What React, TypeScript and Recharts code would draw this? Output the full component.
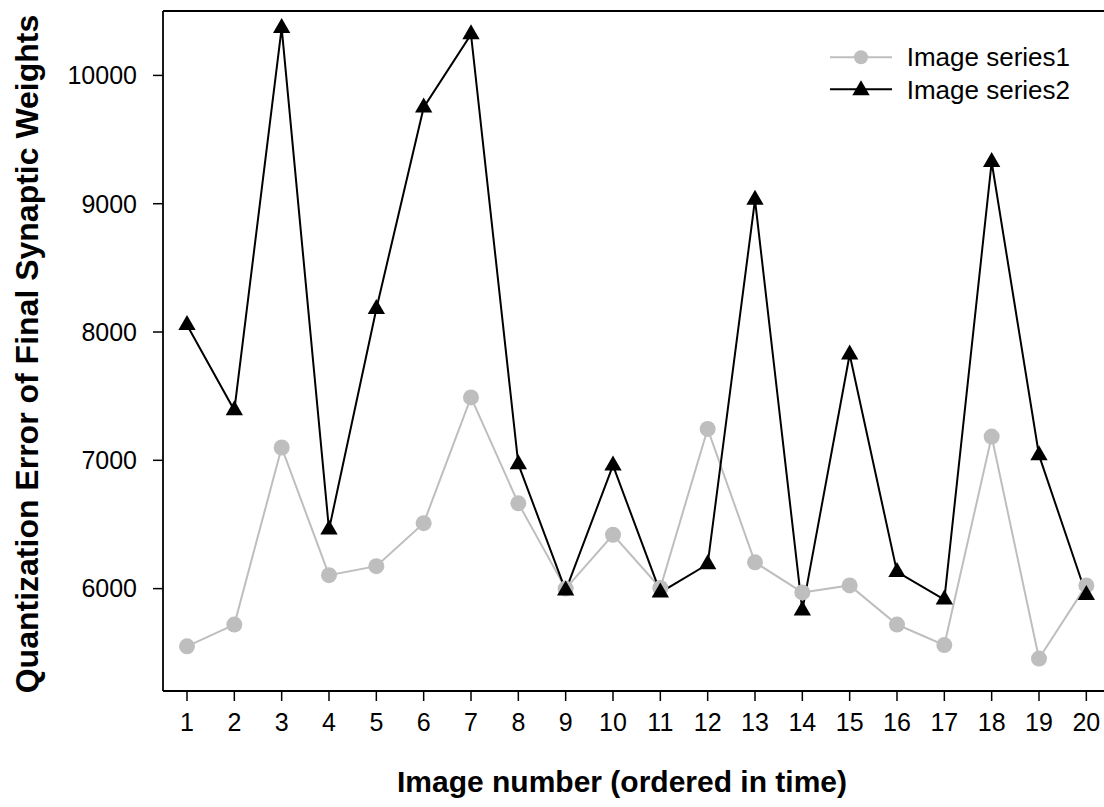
import { LineChart, Line, XAxis, YAxis, ReferenceLine } from 'recharts';

const imageNumbers = [1, 2, 3, 4, 5, 6, 7, 8, 9, 10, 11, 12, 13, 14, 15, 16, 17, 18, 19, 20];
const series1 = [5550, 5720, 7100, 6105, 6175, 6510, 7490, 6665, 6000, 6420, 6005, 7245, 6205, 5970, 6025, 5720, 5560, 7185, 5455, 6025];
const series2 = [8055, 7390, 10370, 6460, 8180, 9750, 10320, 6970, 5985, 6960, 5970, 6190, 9030, 5830, 7825, 6130, 5915, 9325, 7040, 5950];
const yTicks = [6000, 7000, 8000, 9000, 10000];

const data = imageNumbers.map((n, i) => ({ image: n, s1: series1[i], s2: series2[i] }));

const Y_MIN = 5202;
const Y_MAX = 10502;
const GREY = '#bebebe';
const FONT = '"Liberation Sans", Arial, sans-serif';

const GreyDot = (props: any) => {
  const { cx, cy, index } = props;
  if (cx == null || cy == null) return <g key={index} />;
  return <circle key={index} cx={cx} cy={cy} r={8} fill={GREY} />;
};

const TriangleDot = (props: any) => {
  const { cx, cy, index } = props;
  if (cx == null || cy == null) return <g key={index} />;
  return (
    <polygon
      key={index}
      points={`${cx},${cy - 10} ${cx + 8.66},${cy + 5} ${cx - 8.66},${cy + 5}`}
      fill="#000"
    />
  );
};

const tickStyle = { fontSize: 25, fill: '#000', fontFamily: FONT };

export default function App() {
  return (
    <div style={{ position: 'relative', width: 1104, height: 807, background: '#fff' }}>
      <style>{'body{margin:0}'}</style>
      <LineChart width={1104} height={807} data={data} margin={{ top: 11, right: -6, bottom: 0, left: 0 }}>
        <XAxis
          dataKey="image"
          type="number"
          domain={[0.493, 20.5]}
          ticks={imageNumbers}
          interval={0}
          allowDataOverflow
          height={116}
          tickSize={10}
          tickMargin={12}
          tick={tickStyle}
          axisLine={{ stroke: '#000', strokeWidth: 1.8 }}
          tickLine={{ stroke: '#000', strokeWidth: 1.5 }}
          label={{
            content: () => (
              <text
                x={622}
                y={792}
                textAnchor="middle"
                fontSize={30}
                fontWeight="bold"
                fontFamily={FONT}
                fill="#000"
              >
                Image number (ordered in time)
              </text>
            ),
          }}
        />
        <YAxis
          type="number"
          domain={[Y_MIN, Y_MAX]}
          ticks={yTicks}
          allowDataOverflow
          width={163}
          tickSize={10}
          tickMargin={16}
          tick={tickStyle}
          axisLine={{ stroke: '#000', strokeWidth: 1.8 }}
          tickLine={{ stroke: '#000', strokeWidth: 1.5 }}
          label={{
            content: (p: any) => {
              const vb = p.viewBox;
              const cy = vb.y + vb.height / 2 + 3;
              return (
                <text
                  x={37.5}
                  y={cy}
                  transform={`rotate(-90 37.5 ${cy})`}
                  textAnchor="middle"
                  fontSize={32}
                  fontWeight="bold"
                  fontFamily={FONT}
                  fill="#000"
                >
                  Quantization Error of Final Synaptic Weights
                </text>
              );
            },
          }}
        />
        <ReferenceLine y={Y_MAX} stroke="#000" strokeWidth={1.8} ifOverflow="visible" />
        <Line
          dataKey="s1"
          name="Image series1"
          stroke={GREY}
          strokeWidth={2}
          dot={GreyDot}
          activeDot={false}
          isAnimationActive={false}
        />
        <Line
          dataKey="s2"
          name="Image series2"
          stroke="#000"
          strokeWidth={2}
          dot={TriangleDot}
          activeDot={false}
          isAnimationActive={false}
        />
      </LineChart>
      <svg width={1104} height={120} style={{ position: 'absolute', left: 0, top: 0, pointerEvents: 'none' }}>
        <line x1={830} y1={57.3} x2={892} y2={57.3} stroke={GREY} strokeWidth={2} />
        <circle cx={861} cy={57.3} r={7} fill={GREY} />
        <text x={906.7} y={65.5} fontSize={26} fontFamily={FONT} fill="#000">Image series1</text>
        <line x1={830} y1={89.3} x2={892} y2={89.3} stroke="#000" strokeWidth={2} />
        <polygon points="861,80.3 869.7,95.3 852.3,95.3" fill="#000" />
        <text x={906.7} y={99.3} fontSize={26} fontFamily={FONT} fill="#000">Image series2</text>
      </svg>
    </div>
  );
}
